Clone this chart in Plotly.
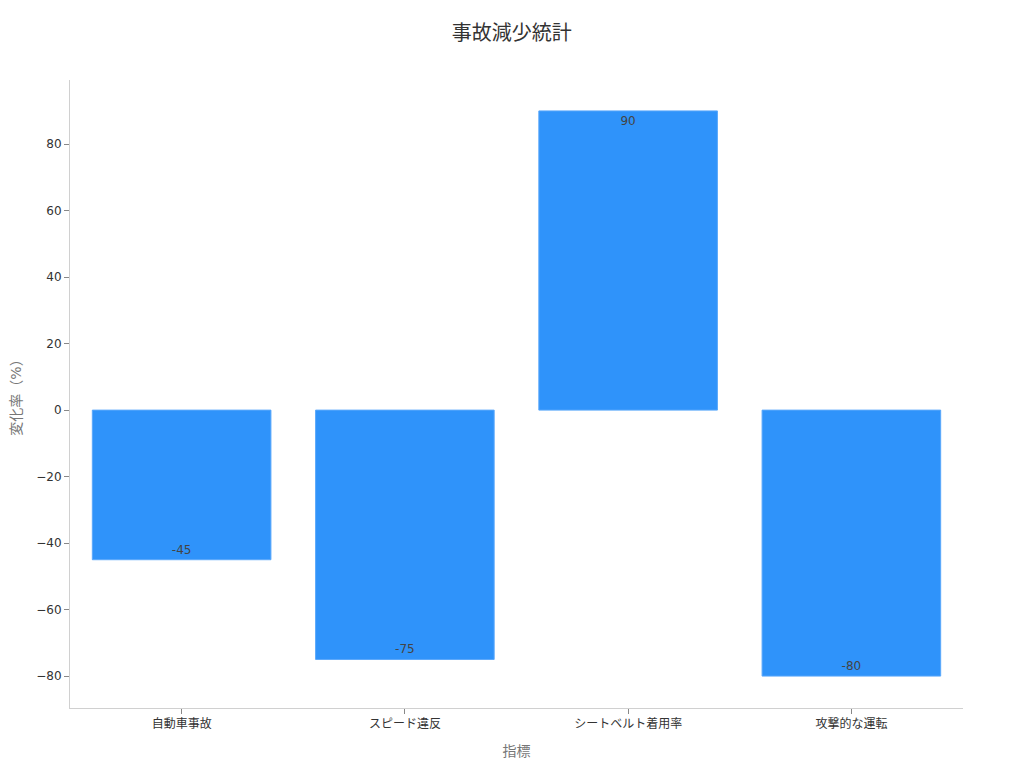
import plotly.graph_objects as go

categories = ["自動車事故", "スピード違反", "シートベルト着用率", "攻撃的な運転"]
values = [-45, -75, 90, -80]

fig = go.Figure(
    go.Bar(
        x=categories,
        y=values,
        text=values,
        textposition="inside",
        insidetextanchor="end",
        textfont=dict(color="#444444", size=12),
        marker=dict(color="#2F93FA", line=dict(color="#5AA8FB", width=1)),
    )
)

fig.update_layout(
    template="simple_white",
    width=1024,
    height=768,
    title=dict(text="事故減少統計", x=0.492, y=0.976, xref="container",
               xanchor="center", font=dict(size=20, color="#333333")),
    font=dict(family="DejaVu Sans, Noto Sans CJK JP", size=12, color="#333333"),
    margin=dict(l=62, r=69, t=72, b=68),
    bargap=0.2,
    showlegend=False,
)

fig.update_xaxes(
    title=dict(text="指標", font=dict(size=14, color="#777777")),
    showline=True, linecolor="#d0d0d0",
    ticks="outside", tickcolor="#888888", ticklen=5,
    automargin=False,
)
fig.update_yaxes(
    title=dict(text="変化率（%）", font=dict(size=14, color="#777777")),
    range=[-89.6, 99.3],
    dtick=20,
    showline=True, linecolor="#d0d0d0",
    ticks="outside", tickcolor="#888888", ticklen=5,
    zeroline=False,
    automargin=False,
)

fig.write_html("out.html")
